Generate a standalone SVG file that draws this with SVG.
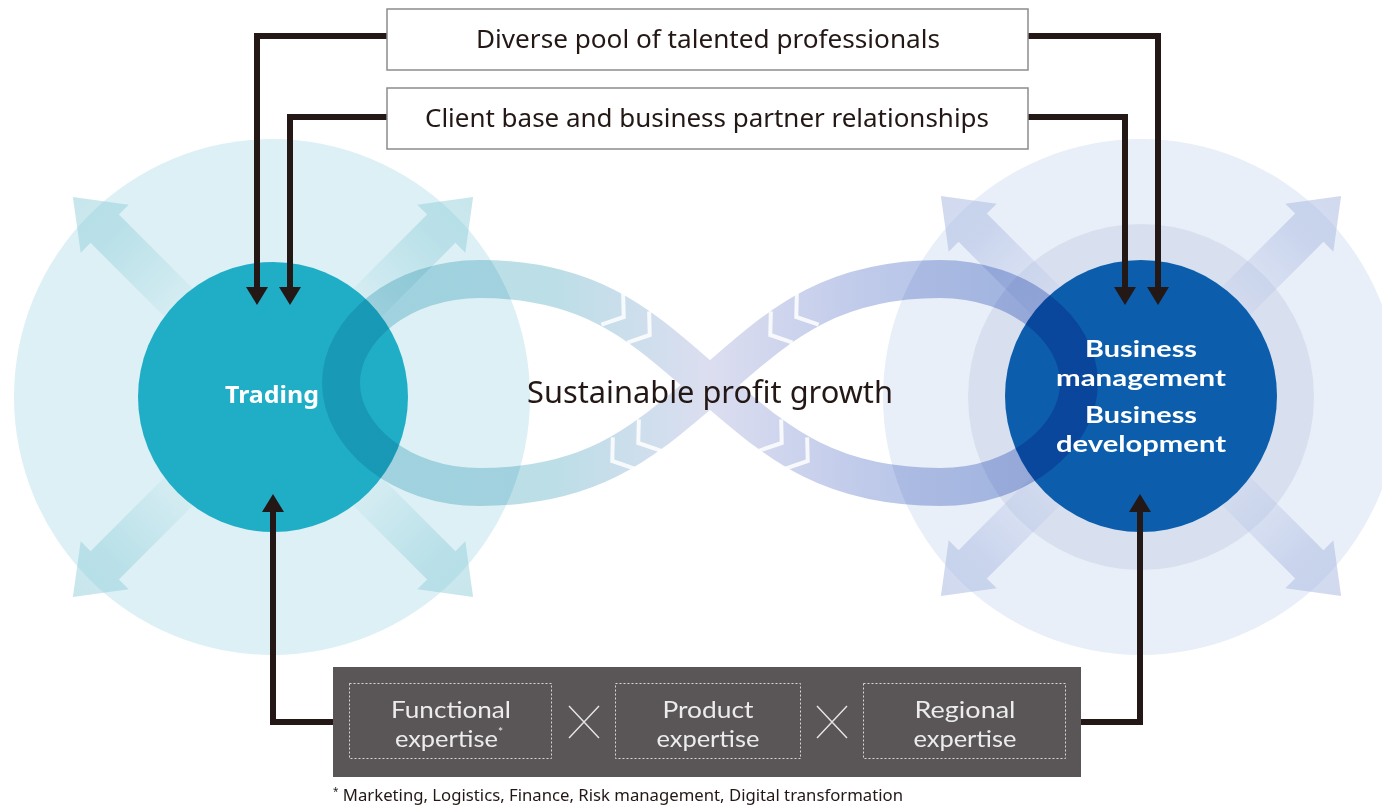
<svg xmlns="http://www.w3.org/2000/svg" xmlns:xlink="http://www.w3.org/1999/xlink" width="1382" height="805" viewBox="0 0 1382 805">
<defs>
<style>
.f{font-family:"Noto Sans","Open Sans","Liberation Sans",sans-serif;}
.l{font-family:Lato,"Noto Sans","Liberation Sans",sans-serif;}
.box{fill:#fff;stroke:#8c8c8c;stroke-width:1.5}
.boxtxt{font-size:26px;fill:#231815;text-anchor:middle}
.conn{fill:none;stroke:#231815;stroke-width:6;stroke-linejoin:miter}
.circtxt{font-size:23px;font-weight:700;fill:#fff;text-anchor:middle}
.bizt{font-size:22px;font-weight:700;fill:#fff;text-anchor:middle}
.exp{font-size:23px;fill:#ececec;text-anchor:middle}
.dash{fill:none;stroke:#d6d6d6;stroke-width:1;stroke-dasharray:2 2}
.cross{stroke:#e6e6e6;stroke-width:1.4}
.chev{fill:none;stroke:#fff;stroke-width:4;stroke-opacity:0.85}
.harrL{fill:url(#gL)}
.harrR{fill:url(#gR)}
</style>
<linearGradient id="band" gradientUnits="userSpaceOnUse" x1="322" y1="0" x2="1098" y2="0">
<stop offset="0" stop-color="#b9e0e8"/>
<stop offset="0.3" stop-color="#bcdee7"/>
<stop offset="0.5" stop-color="#dcdef0"/>
<stop offset="0.7" stop-color="#bfcaea"/>
<stop offset="1" stop-color="#aabce5"/>
</linearGradient>
<linearGradient id="gL" x1="0" y1="0" x2="1" y2="0">
<stop offset="0.42" stop-color="#8fcdd9" stop-opacity="0.05"/>
<stop offset="0.8" stop-color="#8fcdd9" stop-opacity="0.45"/>
<stop offset="1" stop-color="#8fcdd9" stop-opacity="0.5"/>
</linearGradient>
<linearGradient id="gR" x1="0" y1="0" x2="1" y2="0">
<stop offset="0.42" stop-color="#a3b3df" stop-opacity="0.08"/>
<stop offset="0.8" stop-color="#a3b3df" stop-opacity="0.45"/>
<stop offset="1" stop-color="#a3b3df" stop-opacity="0.5"/>
</linearGradient>
<marker id="ah" markerWidth="18" markerHeight="22" refX="0" refY="11" orient="auto" markerUnits="userSpaceOnUse">
<path d="M0,0 L18,11 L0,22 Z" fill="#231815"/>
</marker>
<path id="harrow" d="M0,-20 L238,-20 L238,-34 L283,0 L238,34 L238,20 L0,20 Z"/>
<polyline id="chv" points="-7,-19 7,0 -7,19"/>
</defs>

<rect x="0" y="0" width="1382" height="805" fill="#fff"/>

<g id="halo-left">
<circle cx="272" cy="397" r="258" fill="#dcf0f5"/>
<use xlink:href="#harrow" class="harrL" transform="translate(273,397) rotate(-135)"/>
<use xlink:href="#harrow" class="harrL" transform="translate(273,397) rotate(-45)"/>
<use xlink:href="#harrow" class="harrL" transform="translate(273,397) rotate(135)"/>
<use xlink:href="#harrow" class="harrL" transform="translate(273,397) rotate(45)"/>
</g>

<g id="halo-right">
<circle cx="1141" cy="397" r="258" fill="#e9eff8"/>
<circle cx="1141" cy="397" r="173" fill="#d8e0f0"/>
<use xlink:href="#harrow" class="harrR" transform="translate(1141,396) rotate(-135)"/>
<use xlink:href="#harrow" class="harrR" transform="translate(1141,396) rotate(-45)"/>
<use xlink:href="#harrow" class="harrR" transform="translate(1141,396) rotate(135)"/>
<use xlink:href="#harrow" class="harrR" transform="translate(1141,396) rotate(45)"/>
</g>

<g id="trading">
<circle cx="273" cy="397" r="135" fill="#20aec7"/>
</g>
<g id="business">
<circle cx="1141" cy="396" r="136" fill="#0c5ead"/>
</g>

<g id="growth-loop">
<path d="M710,385 C650,335 600,279 480,279 C400,279 341,330 341,383 C341,436 400,487 480,487 C600,487 650,435 710,385 C770,335 820,279 940,279 C1020,279 1079,330 1079,383 C1079,436 1020,487 940,487 C820,487 770,435 710,385 Z" fill="none" stroke="url(#band)" stroke-width="38" style="mix-blend-mode:multiply"/>
<use xlink:href="#chv" class="chev" transform="translate(618,313) rotate(35)"/>
<use xlink:href="#chv" class="chev" transform="translate(644,331) rotate(35)"/>
<use xlink:href="#chv" class="chev" transform="translate(802,313) rotate(145)"/>
<use xlink:href="#chv" class="chev" transform="translate(776,331) rotate(145)"/>
<use xlink:href="#chv" class="chev" transform="translate(644,439) rotate(145)"/>
<use xlink:href="#chv" class="chev" transform="translate(618,457) rotate(145)"/>
<use xlink:href="#chv" class="chev" transform="translate(776,439) rotate(35)"/>
<use xlink:href="#chv" class="chev" transform="translate(802,457) rotate(35)"/>
<text class="f" x="710" y="403" font-size="30" fill="#231815" text-anchor="middle" textLength="366" lengthAdjust="spacingAndGlyphs">Sustainable profit growth</text>
</g>

<g id="trading-label">
<text class="f circtxt" x="272" y="403" textLength="94" lengthAdjust="spacingAndGlyphs">Trading</text>
</g>
<g id="business-label">
<text class="l bizt"><tspan x="1141" y="357" textLength="112" lengthAdjust="spacingAndGlyphs">Business</tspan><tspan x="1141" y="386" textLength="170" lengthAdjust="spacingAndGlyphs">management</tspan><tspan x="1141" y="423" textLength="112" lengthAdjust="spacingAndGlyphs">Business</tspan><tspan x="1141" y="452" textLength="170" lengthAdjust="spacingAndGlyphs">development</tspan></text>
</g>

<g id="connectors">
<path class="conn" d="M388,36 H257 V287" marker-end="url(#ah)"/>
<path class="conn" d="M388,117 H290 V287" marker-end="url(#ah)"/>
<path class="conn" d="M1027,36 H1158 V287" marker-end="url(#ah)"/>
<path class="conn" d="M1027,117 H1125 V287" marker-end="url(#ah)"/>
<path class="conn" d="M334,722 H273 V512" marker-end="url(#ah)"/>
<path class="conn" d="M1080,722 H1140 V512" marker-end="url(#ah)"/>
</g>

<g id="box-talent">
<rect class="box" x="387" y="9" width="641" height="61"/>
<text class="f boxtxt" x="708" y="48" textLength="464" lengthAdjust="spacingAndGlyphs">Diverse pool of talented professionals</text>
</g>
<g id="box-client">
<rect class="box" x="387" y="88" width="641" height="61"/>
<text class="f boxtxt" x="707" y="127" textLength="564" lengthAdjust="spacingAndGlyphs">Client base and business partner relationships</text>
</g>

<g id="expertise">
<rect x="333" y="667" width="748" height="110" fill="#5a5657"/>
<rect class="dash" x="349.5" y="683.5" width="202" height="75"/>
<rect class="dash" x="615.5" y="683.5" width="185" height="75"/>
<rect class="dash" x="863.5" y="683.5" width="202" height="75"/>
<text class="l exp"><tspan x="451" y="718" textLength="120" lengthAdjust="spacingAndGlyphs">Functional</tspan><tspan x="449" y="747" textLength="103" lengthAdjust="spacingAndGlyphs">expertise</tspan><tspan font-size="12" dy="-11">*</tspan></text>
<text class="l exp"><tspan x="708" y="718" textLength="91" lengthAdjust="spacingAndGlyphs">Product</tspan><tspan x="708" y="747" textLength="103" lengthAdjust="spacingAndGlyphs">expertise</tspan></text>
<text class="l exp"><tspan x="965" y="718" textLength="101" lengthAdjust="spacingAndGlyphs">Regional</tspan><tspan x="965" y="747" textLength="103" lengthAdjust="spacingAndGlyphs">expertise</tspan></text>
<path class="cross" d="M569,706 L599,738 M599,706 L569,738"/>
<path class="cross" d="M817,706 L847,738 M847,706 L817,738"/>
</g>

<g id="footnote">
<text class="f" x="333" y="801" font-size="17" fill="#231815" textLength="570" lengthAdjust="spacingAndGlyphs"><tspan font-size="10" dy="-6">*</tspan><tspan dy="6"> Marketing, Logistics, Finance, Risk management, Digital transformation</tspan></text>
</g>
</svg>
